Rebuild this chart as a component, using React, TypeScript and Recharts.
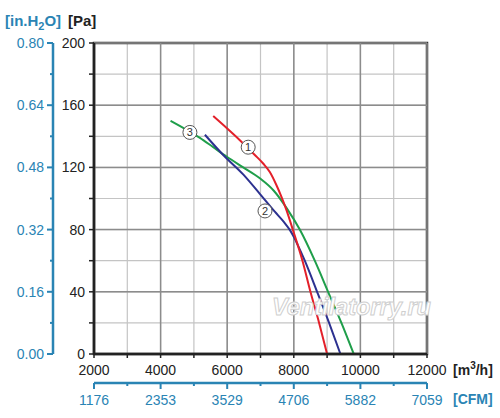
import { ComposedChart, Line, XAxis, YAxis, CartesianGrid, ReferenceLine, ReferenceArea, ReferenceDot } from 'recharts';

// flow ticks in m3/h, every 1000, labelled every 2000
const FLOW_TICKS = [2000, 3000, 4000, 5000, 6000, 7000, 8000, 9000, 10000, 11000, 12000];
const FLOW_MAJOR = [2000, 4000, 6000, 8000, 10000, 12000];
const CFM_LABELS = ['1176', '2353', '3529', '4706', '5882', '7059'];

// pressure ticks in Pa, every 20, labelled every 40
const PA_TICKS = [0, 20, 40, 60, 80, 100, 120, 140, 160, 180, 200];
const PA_MAJOR = [0, 40, 80, 120, 160, 200];
const INH2O_TICKS = [0, 0.08, 0.16, 0.24, 0.32, 0.4, 0.48, 0.56, 0.64, 0.72, 0.8];
const INH2O_MAJOR = [0, 0.16, 0.32, 0.48, 0.64, 0.8];
const PA_PER_INH2O = 249.1;

const CURVE_1 = [
  { q: 5580, pa: 153 }, { q: 6000, pa: 145 }, { q: 6380, pa: 137.5 }, { q: 6830, pa: 128 },
  { q: 7080, pa: 122.5 }, { q: 7280, pa: 117 }, { q: 7480, pa: 108.5 }, { q: 7630, pa: 101 },
  { q: 7780, pa: 92.5 }, { q: 7970, pa: 80 }, { q: 8260, pa: 60 }, { q: 8500, pa: 40 },
  { q: 8760, pa: 20 }, { q: 9000, pa: 0 },
];
const CURVE_2 = [
  { q: 5330, pa: 141 }, { q: 5880, pa: 128 }, { q: 6480, pa: 115.5 }, { q: 6980, pa: 103 },
  { q: 7430, pa: 91.5 }, { q: 7700, pa: 85 }, { q: 7890, pa: 79.5 }, { q: 8020, pa: 74.5 },
  { q: 8120, pa: 70 }, { q: 8330, pa: 60 }, { q: 8700, pa: 40 }, { q: 9060, pa: 20 },
  { q: 9400, pa: 0 },
];
const CURVE_3 = [
  { q: 4300, pa: 150 }, { q: 5180, pa: 139 }, { q: 5580, pa: 133 }, { q: 5980, pa: 127 },
  { q: 6480, pa: 120 }, { q: 6980, pa: 113 }, { q: 7400, pa: 105 }, { q: 7780, pa: 94 },
  { q: 8180, pa: 80 }, { q: 8630, pa: 60 }, { q: 9030, pa: 40 }, { q: 9430, pa: 20 },
  { q: 9800, pa: 0 },
];

// curve number badges
const BADGES = [
  { n: '1', q: 6630, pa: 133 },
  { n: '2', q: 7135, pa: 92 },
  { n: '3', q: 4880, pa: 142.5 },
];

const RED = '#e3202a';
const NAVY = '#2c3190';
const GREEN = '#1f9e4a';
const BLUE = '#2a84b4';
const INK = '#222';
const FONT = '"Liberation Sans", Arial, sans-serif';

// axis ids: recharts stacks same-side axes by id order, "1" sits next to the plot
const FLOW = 'q1';
const CFM = 'q2';
const PA = 'p1';
const INH2O = 'p2';

const CFM_SIZE = 6;
const CFM_MARGIN = 6;
const IN_SIZE = 6;
const IN_MARGIN = 3;

function CfmTick(props: any) {
  const { x, y, payload } = props;
  const i = FLOW_MAJOR.indexOf(payload.value);
  const axisY = y - CFM_SIZE - CFM_MARGIN;
  return (
    <g>
      <line x1={x} x2={x} y1={axisY} y2={axisY + (i >= 0 ? 6 : 3)} stroke={BLUE} strokeWidth={2} />
      {i >= 0 && (
        <text x={x} y={y} dy="0.71em" textAnchor="middle" fill={BLUE} fontSize={14} fontFamily={FONT}>
          {CFM_LABELS[i]}
        </text>
      )}
    </g>
  );
}

function InTick(props: any) {
  const { x, y, payload } = props;
  const major = INH2O_MAJOR.some(v => Math.abs(v - payload.value) < 1e-6);
  const axisX = x + IN_SIZE + IN_MARGIN;
  return (
    <g>
      <line x1={axisX} x2={axisX - (major ? 6 : 3)} y1={y} y2={y} stroke={BLUE} strokeWidth={2} />
      {major && (
        <text x={x} y={y} dy="0.355em" textAnchor="end" fill={BLUE} fontSize={14} fontFamily={FONT}>
          {payload.value.toFixed(2)}
        </text>
      )}
    </g>
  );
}

export default function App() {
  return (
    <div style={{ position: 'absolute', left: 0, top: 0, width: 500, height: 418, background: '#fff', fontFamily: FONT }}>
      <ComposedChart width={500} height={418} margin={{ top: 43, right: 73, left: 0, bottom: 10 }}>
        <CartesianGrid xAxisId={FLOW} yAxisId={PA} stroke="#c4c4c4" strokeWidth={1.2} />
        {FLOW_MAJOR.map(v => (
          <ReferenceLine key={'x' + v} xAxisId={FLOW} yAxisId={PA} x={v} stroke="#8c8c8c" strokeWidth={1.5} />
        ))}
        {PA_MAJOR.map(v => (
          <ReferenceLine key={'y' + v} xAxisId={FLOW} yAxisId={PA} y={v} stroke="#8c8c8c" strokeWidth={1.5} />
        ))}

        <XAxis
          xAxisId={FLOW}
          dataKey="q"
          type="number"
          domain={[2000, 12000]}
          ticks={FLOW_TICKS}
          interval={0}
          height={29}
          tickSize={4}
          tickMargin={7}
          tickFormatter={(v: number) => (FLOW_MAJOR.includes(v) ? String(v) : '')}
          tick={{ fill: INK, fontSize: 14, fontFamily: FONT }}
          axisLine={{ stroke: INK, strokeWidth: 2.5 }}
          tickLine={{ stroke: INK, strokeWidth: 1.5 }}
        />
        <XAxis
          xAxisId={CFM}
          dataKey="q"
          type="number"
          domain={[2000, 12000]}
          allowDataOverflow
          ticks={FLOW_TICKS}
          interval={0}
          height={25}
          tickSize={CFM_SIZE}
          tickMargin={CFM_MARGIN}
          tick={<CfmTick />}
          tickLine={false}
          axisLine={{ stroke: BLUE, strokeWidth: 2.5 }}
        />
        <YAxis
          yAxisId={PA}
          type="number"
          domain={[0, 200]}
          ticks={PA_TICKS}
          interval={0}
          width={41}
          tickSize={5}
          tickMargin={4}
          tickFormatter={(v: number) => (PA_MAJOR.includes(v) ? String(v) : '')}
          tick={{ fill: INK, fontSize: 14, fontFamily: FONT }}
          axisLine={{ stroke: INK, strokeWidth: 2.5 }}
          tickLine={{ stroke: INK, strokeWidth: 1.5 }}
        />
        <YAxis
          yAxisId={INH2O}
          type="number"
          domain={[0, 0.8]}
          allowDataOverflow
          ticks={INH2O_TICKS}
          interval={0}
          width={53}
          tickSize={IN_SIZE}
          tickMargin={IN_MARGIN}
          tick={<InTick />}
          tickLine={false}
          axisLine={{ stroke: BLUE, strokeWidth: 2.5 }}
        />

        {/* same curve in imperial units, kept invisible so the secondary axes get a scale */}
        <Line xAxisId={CFM} yAxisId={INH2O} data={CURVE_1} dataKey={(d: any) => d.pa / PA_PER_INH2O} stroke="none" dot={false} activeDot={false} isAnimationActive={false} />

        <Line xAxisId={FLOW} yAxisId={PA} data={CURVE_3} dataKey="pa" type="monotone" stroke={GREEN} strokeWidth={2} dot={false} isAnimationActive={false} />
        <Line xAxisId={FLOW} yAxisId={PA} data={CURVE_2} dataKey="pa" type="monotone" stroke={NAVY} strokeWidth={2} dot={false} isAnimationActive={false} />
        <Line xAxisId={FLOW} yAxisId={PA} data={CURVE_1} dataKey="pa" type="monotone" stroke={RED} strokeWidth={2} dot={false} isAnimationActive={false} />

        <ReferenceArea xAxisId={FLOW} yAxisId={PA} x1={2000} x2={12000} y1={0} y2={200} fill="none" stroke="#333" strokeWidth={2.5} />

        {BADGES.map(b => (
          <ReferenceDot
            key={b.n}
            xAxisId={FLOW}
            yAxisId={PA}
            x={b.q}
            y={b.pa}
            r={7}
            fill="#fff"
            stroke="#555"
            strokeWidth={1}
            label={{ value: b.n, position: 'center', fontSize: 11, fill: '#333', fontFamily: FONT }}
          />
        ))}
      </ComposedChart>

      <svg width={500} height={418} style={{ position: 'absolute', left: 0, top: 0, pointerEvents: 'none' }}>
        <text x={5} y={26} fill={BLUE} fontSize={15} fontWeight="bold" fontFamily={FONT}>
          [in.H<tspan fontSize={11} dy={4}>2</tspan><tspan dy={-4}>O]</tspan>
        </text>
        <text x={68} y={26} fill={INK} fontSize={15} fontWeight="bold" fontFamily={FONT}>[Pa]</text>
        <text x={453} y={375} fill={INK} fontSize={14} fontWeight="bold" fontFamily={FONT}>
          [m<tspan fontSize={10} dy={-6}>3</tspan><tspan dy={6}>/h]</tspan>
        </text>
        <text x={453} y={404} fill={BLUE} fontSize={14} fontWeight="bold" fontFamily={FONT}>[CFM]</text>
        <text x={272} y={315} fill="#fff" stroke="#cfcfcf" strokeWidth={1} fontSize={23.5} fontWeight="bold" fontStyle="italic" fontFamily={FONT}>
          Ventilatorry.ru
        </text>
      </svg>
    </div>
  );
}
